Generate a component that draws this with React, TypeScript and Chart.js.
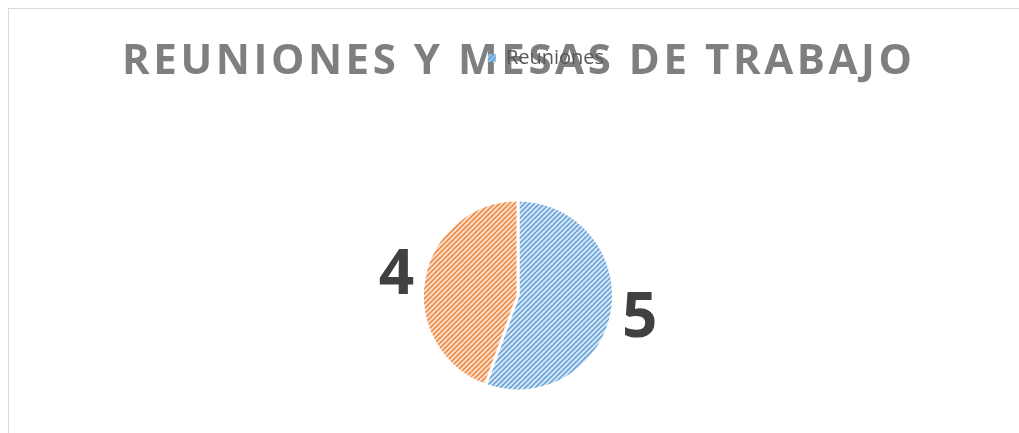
import { useEffect, useRef } from 'react';
import { Chart, registerables } from 'chart.js';
Chart.register(...registerables);

const TITLE = 'REUNIONES Y MESAS DE TRABAJO';
const categories = ['Reuniones', 'Mesas de trabajo'];
const values = [5, 4];
const legendShown = ['Reuniones'];

function makePattern(bg: string, fg: string) {
  const c = document.createElement('canvas');
  const s = 5;
  c.width = s;
  c.height = s;
  const x = c.getContext('2d')!;
  x.fillStyle = bg;
  x.fillRect(0, 0, s, s);
  x.strokeStyle = fg;
  x.lineWidth = 1.3;
  x.beginPath();
  x.moveTo(-1, s + 1);
  x.lineTo(s + 1, -1);
  x.moveTo(-1, 1);
  x.lineTo(1, -1);
  x.moveTo(s - 1, s + 1);
  x.lineTo(s + 1, s - 1);
  x.stroke();
  return x.createPattern(c, 'repeat')!;
}

const titlePlugin = {
  id: 'excelTitle',
  beforeDraw(chart: any) {
    const ctx = chart.ctx;
    ctx.save();
    ctx.font = 'bold 42px "Open Sans"';
    ctx.fillStyle = '#7f7f7f';
    ctx.textBaseline = 'alphabetic';
    ctx.textAlign = 'left';
    (ctx as any).letterSpacing = '0px';
    const w = ctx.measureText(TITLE).width;
    const target = 790;
    const sp = (target - w) / (TITLE.length - 1);
    (ctx as any).letterSpacing = sp + 'px';
    const cx = chart.width / 2 - 1;
    ctx.fillText(TITLE, cx - target / 2, 65);
    ctx.restore();
  },
  afterLayout(chart: any) {
    const lg = chart.legend;
    if (lg) {
      lg.left += 28;
      lg.right += 28;
    }
  },
  afterDatasetsDraw(chart: any) {
    const ctx = chart.ctx;
    const meta = chart.getDatasetMeta(0);
    ctx.save();
    ctx.font = 'bold 62px "Open Sans"';
    ctx.fillStyle = '#404040';
    ctx.textAlign = 'center';
    ctx.textBaseline = 'middle';
    meta.data.forEach((arc: any, i: number) => {
      const p = arc.getProps(['x', 'y', 'startAngle', 'endAngle', 'outerRadius'], true);
      const mid = (p.startAngle + p.endAngle) / 2;
      const d = p.outerRadius + 28;
      ctx.fillText(String(values[i]), p.x + Math.cos(mid) * d, p.y + Math.sin(mid) * d + 2);
    });
    ctx.restore();
  },
};

export default function App() {
  const ref = useRef<HTMLCanvasElement>(null);
  useEffect(() => {
    document.documentElement.style.overflow = 'hidden';
    const bluePat = makePattern('#d3e4f5', '#5b9bd5');
    const orangePat = makePattern('#fbdcc6', '#ed7d31');
    const legendPat = makePattern('#9dc3e6', '#5b9bd5');
    const chart = new Chart(ref.current!, {
      type: 'pie',
      data: {
        labels: categories,
        datasets: [
          {
            data: values,
            backgroundColor: [bluePat, orangePat],
            borderColor: '#ffffff',
            borderWidth: 3,
            radius: 95.5,
          } as any,
        ],
      },
      plugins: [titlePlugin],
      options: {
        animation: false,
        responsive: false,
        events: [],
        layout: { padding: { top: 29 } },
        plugins: {
          tooltip: { enabled: false },
          title: { display: false },
          legend: {
            display: true,
            position: 'top',
            labels: {
              boxWidth: 8,
              boxHeight: 8,
              padding: 10,
              color: '#595959',
              font: { family: '"Open Sans"', size: 20 },
              generateLabels: (chart: any) => {
                const items = (Chart as any).overrides.pie.plugins.legend.labels.generateLabels(chart);
                return items
                  .filter((it: any) => legendShown.includes(it.text))
                  .map((it: any) => ({ ...it, lineWidth: 0, fillStyle: legendPat }));
              },
            },
          },
        },
      },
    });
    return () => chart.destroy();
  }, []);
  return (
    <div
      style={{
        position: 'absolute',
        left: 8,
        top: 8,
        width: 1018,
        height: 504,
        border: '1px solid #d9d9d9',
        background: '#fff',
      }}
    >
      <canvas ref={ref} width={1018} height={504} style={{ display: 'block' }} />
    </div>
  );
}
